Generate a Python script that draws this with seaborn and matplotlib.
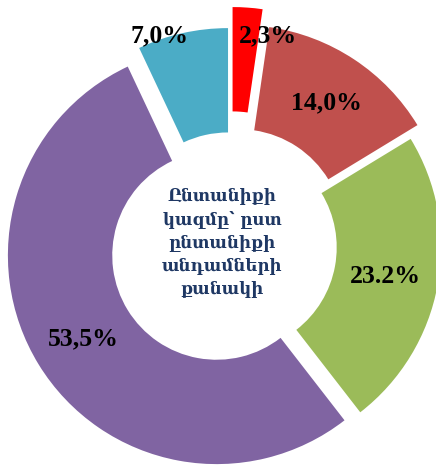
import numpy as np
import matplotlib
matplotlib.use('Agg')
from matplotlib import pyplot as plt
import seaborn as sns

# share of households by number of members (clockwise from top)
labels = ['2,3%', '14,0%', '23.2%', '53,5%', '7,0%']
shares = [2.3, 14.0, 23.2, 53.5, 7.0]
colors = ['#FF0000', '#C0504D', '#9BBB59', '#8064A2', '#4BACC6']
explode = [0.15, 0.077, 0.01, 0.077, 0.05]

# label anchors in data units (radius = 1)
label_pos = [(0.181, 1.01), (0.463, 0.69), (0.741, -0.14), (-0.706, -0.44), (-0.337, 1.01)]

center_text = 'Ընտանիքի\nկազմը՝ ըստ\nընտանիքի\nանդամների\nքանակի'

sns.set_theme(style='white')
plt.rcParams['font.family'] = ['DejaVu Serif']

fig = plt.figure(figsize=(4.36, 4.69), dpi=100)
ax = fig.add_axes([0, 0, 1, 1])

ax.pie(shares, colors=colors, explode=explode, startangle=90,
       counterclock=False, radius=1.0,
       wedgeprops=dict(width=0.5, edgecolor='none'))

for lab, (x, y) in zip(labels, label_pos):
    ax.text(x, y, lab, ha='center', va='center', fontsize=18.5,
            fontweight='bold', family=['Liberation Serif', 'DejaVu Serif'],
            color='black')

ax.text(-0.04, 0.02, center_text, ha='center', va='center', fontsize=12,
        fontweight='bold', color='#1F3864', linespacing=1.45,
        family=['DejaVu Serif', 'DejaVu Sans'])

ax.set_xlim(-1.1035, 0.9856)
ax.set_ylim(-1.0637, 1.1835)
ax.set_aspect('auto')
ax.axis('off')

plt.savefig('out.png', dpi=100)
